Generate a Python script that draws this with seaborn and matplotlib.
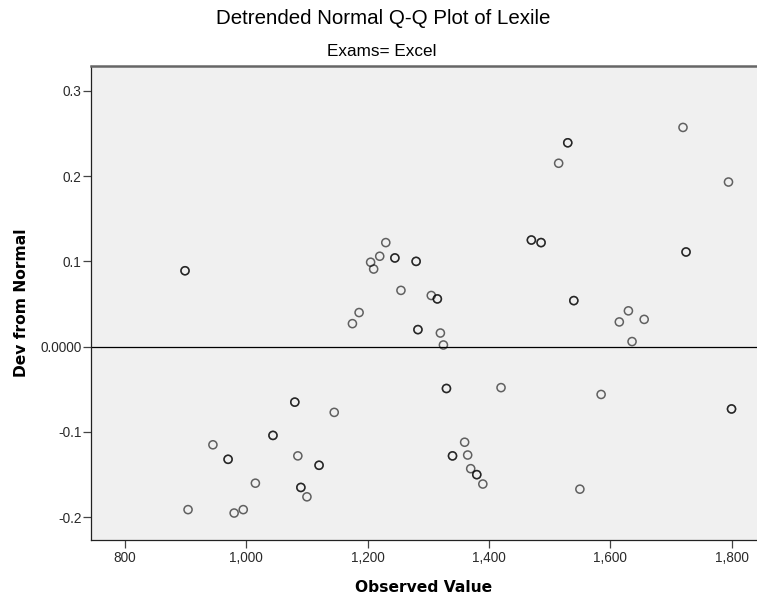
import matplotlib
matplotlib.use("Agg")
import matplotlib.pyplot as plt
import seaborn as sns
import pandas as pd
from matplotlib.ticker import FixedLocator, FuncFormatter

observed = [899, 899, 904, 945, 970, 970, 980, 995, 1015, 1044, 1044,
            1080, 1080, 1085, 1090, 1090, 1100, 1120, 1120, 1145, 1175,
            1186, 1205, 1210, 1220, 1230, 1245, 1245, 1255, 1280, 1280,
            1283, 1283, 1305, 1315, 1315, 1320, 1325, 1330, 1330, 1340,
            1340, 1360, 1365, 1370, 1380, 1380, 1390, 1420, 1470, 1470,
            1486, 1486, 1515, 1530, 1530, 1540, 1540, 1550, 1585, 1615,
            1630, 1636, 1656, 1720, 1725, 1725, 1795, 1800, 1800]
deviation = [0.089, 0.089, -0.191, -0.115, -0.132, -0.132, -0.195, -0.191,
             -0.160, -0.104, -0.104, -0.065, -0.065, -0.128, -0.165, -0.165,
             -0.176, -0.139, -0.139, -0.077, 0.027, 0.040, 0.099, 0.091,
             0.106, 0.122, 0.104, 0.104, 0.066, 0.100, 0.100, 0.020, 0.020,
             0.060, 0.056, 0.056, 0.016, 0.002, -0.049, -0.049, -0.128,
             -0.128, -0.112, -0.127, -0.143, -0.150, -0.150, -0.161, -0.048,
             0.125, 0.125, 0.122, 0.122, 0.215, 0.239, 0.239, 0.054, 0.054,
             -0.167, -0.056, 0.029, 0.042, 0.006, 0.032, 0.257, 0.111, 0.111,
             0.193, -0.073, -0.073]

x_ticks = [800, 1000, 1200, 1400, 1600, 1800]
y_ticks = [-0.2, -0.1, 0.0, 0.1, 0.2, 0.3]

title = "Detrended Normal Q-Q Plot of Lexile"
subtitle = "Exams= Excel"
x_label = "Observed Value"
y_label = "Dev from Normal"

df = pd.DataFrame({"Observed Value": observed, "Dev from Normal": deviation})

W, H = 757, 603
fig = plt.figure(figsize=(W / 100, H / 100), dpi=100)
fig.patch.set_facecolor("white")

left, right, top, bottom = 91, 757, 66, 540
ax = fig.add_axes([left / W, 1 - bottom / H, (right - left) / W, (bottom - top) / H])
ax.set_facecolor("#F0F0F0")

sns.scatterplot(data=df, x="Observed Value", y="Dev from Normal", ax=ax,
                marker="o", s=34, facecolors="none", edgecolor="black",
                linewidth=1.1, alpha=0.6, legend=False, zorder=3)

ax.axhline(0, color="black", linewidth=0.9, zorder=2)

ax.set_xlim(744, 1842)
ax.set_ylim(-0.2266, 0.329)

ax.xaxis.set_major_locator(FixedLocator(x_ticks))
ax.yaxis.set_major_locator(FixedLocator(y_ticks))
ax.xaxis.set_major_formatter(FuncFormatter(lambda v, p: f"{v:,.0f}"))
ax.yaxis.set_major_formatter(FuncFormatter(lambda v, p: "0.0000" if abs(v) < 1e-9 else f"{v:.1f}"))

tick_font = "Liberation Sans"
for lab in ax.get_xticklabels() + ax.get_yticklabels():
    lab.set_fontfamily(tick_font)
    lab.set_fontsize(9.8)
    lab.set_color("#2a2a2a")
ax.tick_params(axis="both", direction="out", length=6, width=0.9, color="#444444")
ax.tick_params(axis="y", pad=1)
ax.tick_params(axis="x", pad=2)

for side in ["left", "bottom"]:
    ax.spines[side].set_color("#222222")
    ax.spines[side].set_linewidth(0.9)
ax.spines["top"].set_color("#666666")
ax.spines["top"].set_linewidth(1.8)
ax.spines["right"].set_visible(False)

ax.set_xlabel("")
ax.set_ylabel("")
fig.text(424 / W, 1 - 588 / H, x_label, ha="center", va="center",
         fontfamily="DejaVu Sans", fontweight="bold", fontsize=11.2)
fig.text(22 / W, 1 - 303 / H, y_label, ha="center", va="center", rotation=90,
         fontfamily="DejaVu Sans", fontweight="bold", fontsize=11.2)

fig.text(383 / W, 1 - 18 / H, title, ha="center", va="center",
         fontfamily="Liberation Sans", fontsize=14.8, color="black")
fig.text(382 / W, 1 - 52 / H, subtitle, ha="center", va="center",
         fontfamily="Liberation Sans", fontsize=12.3, color="black")

fig.savefig("out.png", dpi=100, facecolor="white")
